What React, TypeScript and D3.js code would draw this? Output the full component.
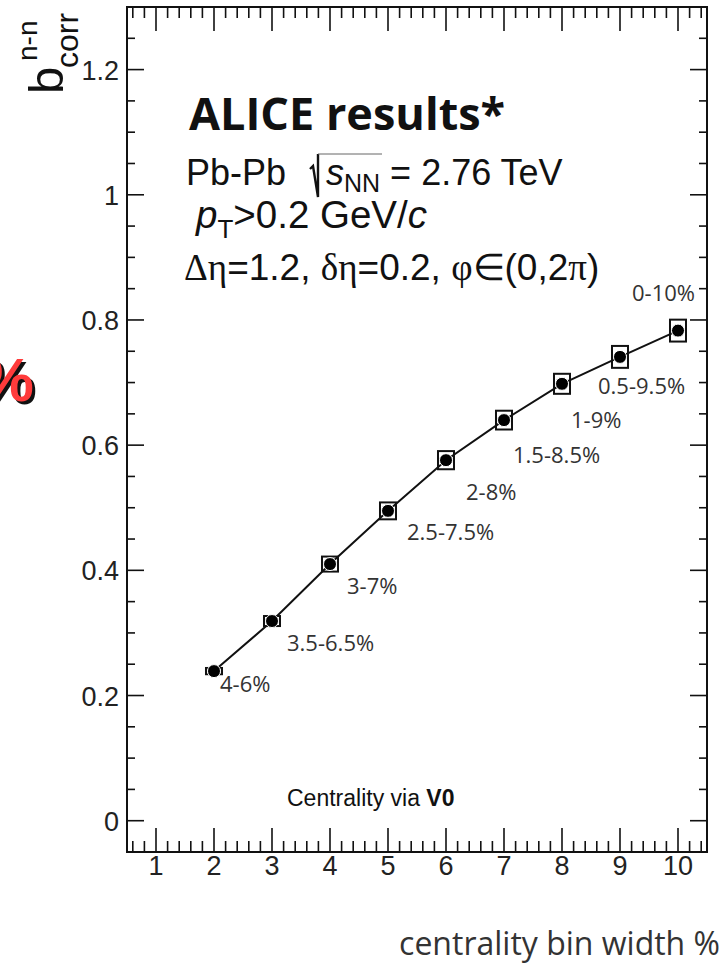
import React from 'react';
import * as d3 from 'd3';

// centrality bin width (%) and the measured b_corr for each bin
const binWidths = [2, 3, 4, 5, 6, 7, 8, 9, 10];
const bCorr = [0.239, 0.319, 0.41, 0.495, 0.576, 0.64, 0.698, 0.741, 0.783];
// half height of the systematic boxes
const sysErr = [0.005, 0.008, 0.012, 0.0135, 0.0145, 0.015, 0.016, 0.0175, 0.0175];
const binLabels = ['4-6%', '3.5-6.5%', '3-7%', '2.5-7.5%', '2-8%', '1.5-8.5%', '1-9%', '0.5-9.5%', '0-10%'];

const xTicks = [1, 2, 3, 4, 5, 6, 7, 8, 9, 10];
const xTickLabels = ['1', '2', '3', '4', '5', '6', '7', '8', '9', '10'];
const yTicks = [0, 0.2, 0.4, 0.6, 0.8, 1, 1.2];
const yTickLabels = ['0', '0.2', '0.4', '0.6', '0.8', '1', '1.2'];

// label placement relative to its point (px)
const labelOffsets = [[6, 13], [15, 22], [17, 22], [19, 21], [20, 32], [9, 35], [9, 36], [-22, 29], [-46, -38]];

const W = 723;
const H = 968;
const left = 127, right = 707, top = 7, bottom = 852;

const sans = '"Liberation Sans", Arial, Helvetica, sans-serif';
const serif = '"Liberation Serif", "Times New Roman", serif';
const open = '"Open Sans", "Noto Sans", sans-serif';

export default function App() {
  const x = d3.scaleLinear().domain([0.5, 10.5]).range([left, right]);
  const y = d3.scaleLinear().domain([-0.05, 1.3]).range([bottom, top]);

  const xMinor = d3.range(6, 105, 2).filter(v => v % 10 !== 0).map(v => v / 10);
  const yMinor = d3.range(-1, 26).filter(k => k % 4 !== 0).map(k => k * 0.05);

  const pts = binWidths.map((b, i) => [b, bCorr[i]] as [number, number]);
  const line = d3.line<[number, number]>().x(d => x(d[0])).y(d => y(d[1]));

  const boxHalf = 0.138;
  const ink = '#111';

  return (
    <svg width={W} height={H} style={{ position: 'absolute', left: 0, top: 0, background: '#fff' }}>
      <rect width={W} height={H} fill="#fff" />

      {/* red percent sign, cut at the left edge */}
      <text x={37} y={404} textAnchor="end" fontFamily={sans} fontWeight="bold" fontSize={62} fill="#111">%</text>
      <text x={34} y={401} textAnchor="end" fontFamily={sans} fontWeight="bold" fontSize={62} fill="#ff3b3b">%</text>

      {/* frame */}
      <rect x={left} y={top} width={right - left} height={bottom - top} fill="none" stroke={ink} strokeWidth={2} />

      {/* x ticks, bottom and top */}
      {xTicks.map(t => (
        <g key={'xt' + t}>
          <line x1={x(t)} x2={x(t)} y1={bottom} y2={bottom - 24} stroke={ink} strokeWidth={1.6} />
          <line x1={x(t)} x2={x(t)} y1={top} y2={top + 24} stroke={ink} strokeWidth={1.6} />
        </g>
      ))}
      {xMinor.map(t => (
        <g key={'xm' + t}>
          <line x1={x(t)} x2={x(t)} y1={bottom} y2={bottom - 11} stroke={ink} strokeWidth={1.6} />
          <line x1={x(t)} x2={x(t)} y1={top} y2={top + 11} stroke={ink} strokeWidth={1.6} />
        </g>
      ))}
      {/* y ticks, left and right */}
      {yTicks.map(t => (
        <g key={'yt' + t}>
          <line x1={left} x2={left + 17} y1={y(t)} y2={y(t)} stroke={ink} strokeWidth={1.6} />
          <line x1={right} x2={right - 17} y1={y(t)} y2={y(t)} stroke={ink} strokeWidth={1.6} />
        </g>
      ))}
      {yMinor.map(t => (
        <g key={'ym' + t}>
          <line x1={left} x2={left + 8} y1={y(t)} y2={y(t)} stroke={ink} strokeWidth={1.6} />
          <line x1={right} x2={right - 8} y1={y(t)} y2={y(t)} stroke={ink} strokeWidth={1.6} />
        </g>
      ))}

      {/* tick labels */}
      {xTicks.map((t, i) => (
        <text key={'xl' + t} x={x(t)} y={bottom + 23} textAnchor="middle" fontFamily={sans} fontSize={27} fill="#222">
          {xTickLabels[i]}
        </text>
      ))}
      {yTicks.map((t, i) => (
        <text key={'yl' + t} x={left - 8} y={y(t) + 10} textAnchor="end" fontFamily={sans} fontSize={27} fill="#222">
          {yTickLabels[i]}
        </text>
      ))}

      {/* y axis title */}
      <g transform="translate(63,94) rotate(-90)" fontFamily={sans} fill="#111">
        <text x={0} y={0} fontSize={49}>b</text>
        <text x={33} y={-26} fontSize={28}>n-n</text>
        <text x={26} y={15} fontSize={32}>corr</text>
      </g>

      {/* header text */}
      <text x={189} y={130} fontFamily={open} fontWeight="bold" fontSize={45} fill="#111">ALICE results*</text>
      <text x={186} y={185} fontFamily={sans} fontSize={36} fill="#111">
        Pb-Pb<tspan x={326} fontStyle="italic">s</tspan>
        <tspan fontSize={25} dy={7}>NN</tspan>
        <tspan dy={-7}> = 2.76 TeV</tspan>
      </text>
      <path d="M310,169 L313,166 L318,197 L318,154" fill="none" stroke="#111" strokeWidth={2.4} />
      <path d="M318,154 L382,154" fill="none" stroke="#666" strokeWidth={1} />
      <text x={196} y={228} fontFamily={sans} fontSize={38.5} fill="#111">
        <tspan fontStyle="italic">p</tspan>
        <tspan fontSize={26} dy={10}>T</tspan>
        <tspan dy={-10}>{'>0.2 GeV/'}</tspan>
        <tspan fontStyle="italic">c</tspan>
      </text>
      <text x={184} y={280} fontFamily={sans} fontSize={37} fill="#111">
        <tspan fontFamily={serif}>Δη</tspan>
        <tspan>=1.2, </tspan>
        <tspan fontFamily={serif}>δη</tspan>
        <tspan>=0.2, </tspan>
        <tspan fontFamily={serif}>φ∈</tspan>
        <tspan>(0,2</tspan>
        <tspan fontFamily={serif}>π</tspan>
        <tspan>)</tspan>
      </text>

      <text x={287} y={806} fontFamily={sans} fontSize={23} fill="#111">
        Centrality via <tspan fontWeight="bold">V0</tspan>
      </text>

      {/* connecting line */}
      <path d={line(pts) || ''} fill="none" stroke={ink} strokeWidth={2} />

      {/* systematic boxes */}
      {pts.map((d, i) => (
        <rect
          key={'box' + i}
          x={x(d[0] - boxHalf)}
          y={y(d[1] + sysErr[i])}
          width={x(d[0] + boxHalf) - x(d[0] - boxHalf)}
          height={y(d[1] - sysErr[i]) - y(d[1] + sysErr[i])}
          fill="none"
          stroke={ink}
          strokeWidth={2}
        />
      ))}
      {/* markers */}
      {pts.map((d, i) => (
        <circle key={'pt' + i} cx={x(d[0])} cy={y(d[1])} r={6.5} fill="#000" stroke="#fff" strokeWidth={1} />
      ))}

      {/* bin labels */}
      {pts.map((d, i) => (
        <text
          key={'lab' + i}
          x={x(d[0]) + labelOffsets[i][0]}
          y={y(d[1]) + labelOffsets[i][1] + 8}
          fontFamily={open}
          fontSize={22}
          fill="#333"
        >
          {binLabels[i]}
        </text>
      ))}

      <text x={720} y={955} textAnchor="end" fontFamily={open} fontSize={32} fill="#333">centrality bin width %</text>
    </svg>
  );
}
